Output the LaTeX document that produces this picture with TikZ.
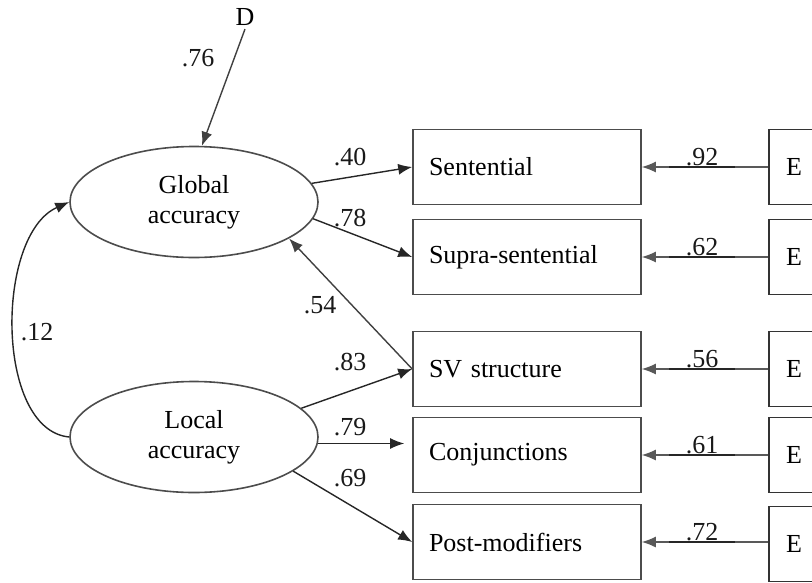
\documentclass[tikz,border=0pt]{standalone}
\usepackage{fontspec}
\setmainfont{Liberation Serif}
\usetikzlibrary{shapes.geometric,arrows.meta}

\begin{document}
\begin{tikzpicture}[x=1pt,y=-1pt,font=\fontsize{26}{30}\selectfont,
	latent/.style={ellipse,draw=black!70,line width=1.6pt,minimum width=248pt,minimum height=111pt,align=center,inner sep=0pt},
	observed/.style={rectangle,draw=black!70,line width=1.6pt,minimum height=75pt,text width=196pt,inner xsep=16pt,align=left},
	errbox/.style={rectangle,draw=black!80,line width=1.3pt,minimum height=75pt,minimum width=50pt},
	load/.style={-{Latex[length=14pt,width=11pt]},line width=1.4pt,black!85},
	errarr/.style={-{Latex[length=14pt,width=11pt]},line width=1.3pt,black!65},
	coef/.style={inner sep=0pt,text=black!90}]
			\useasboundingbox (0,0) rectangle (812,582);
			\clip (0,0) rectangle (812,582);
			
			\node[latent] (glob) at (194,202) {Global\\accuracy};
			\node[latent] (loc) at (194,437) {Local\\accuracy};
			\node (d) at (245,17) {D};
			
			\node[observed] (sent) at (527,167) {Sentential};
			\node[observed] (supra) at (527,257) {Supra-sentential};
			\node[observed] (sv) at (527,369) {SV structure};
			\node[observed] (conj) at (527,455) {Conjunctions};
			\node[observed] (post) at (527,542) {Post-modifiers};
			
			\node[errbox] (e1) at (794,167) {E};
			\node[errbox] (e2) at (794,257) {E};
			\node[errbox] (e3) at (794,369) {E};
			\node[errbox] (e4) at (794,455) {E};
			\node[errbox] (e5) at (794,544) {E};
			
			\draw[load,black!75] (d.south) -- (glob.82);
			\node[coef] (k0) at (198,58) {.76};
			
			\draw[load] (glob.9) -- (sent.west);
			\draw[load] (glob.-8) -- (supra.west);
			\draw[load,black!75] (sv.west) -- (glob.-21);
			\draw[load] (loc.15) -- (sv.west);
			\draw[load] (loc.-3) -- ([xshift=-8pt]loc.-3 -| conj.west);
			\draw[load] (loc.-19) -- (post.west);
			\draw[load] (loc.west) .. controls (-5,430) and (-5,235) .. (glob.west);
			
			\node[coef] (k1) at (350,157) {.40};
			\node[coef] (k2) at (350,218) {.78};
			\node[coef] (k3) at (320,305) {.54};
			\node[coef] (k4) at (350,362) {.83};
			\node[coef] (k5) at (350,427) {.79};
			\node[coef] (k6) at (350,478) {.69};
			\node[coef] (k7) at (37,332) {.12};
			
			\draw[errarr] (e1.west |- sent.east) -- (sent.east) node[coef,midway,above,xshift=-3pt] (r1) {.92};
			\draw[errarr] (e2.west |- supra.east) -- (supra.east) node[coef,midway,above,xshift=-3pt] (r2) {.62};
			\draw[errarr] (e3.west |- sv.east) -- (sv.east) node[coef,midway,above,xshift=-3pt] (r3) {.56};
			\draw[errarr] (e4.west |- conj.east) -- (conj.east) node[coef,midway,above,xshift=-3pt] (r4) {.61};
			\draw[errarr] (e5.west |- post.east) -- (post.east) node[coef,midway,above,xshift=-3pt] (r5) {.72};
			
			\draw[line width=2.8pt,black!85] ([xshift=-33pt]r1.south) -- ([xshift=33pt]r1.south);
			\draw[line width=2.8pt,black!85] ([xshift=-33pt]r2.south) -- ([xshift=33pt]r2.south);
			\draw[line width=2.8pt,black!85] ([xshift=-33pt]r3.south) -- ([xshift=33pt]r3.south);
			\draw[line width=2.8pt,black!85] ([xshift=-33pt]r4.south) -- ([xshift=33pt]r4.south);
			\draw[line width=2.8pt,black!85] ([xshift=-33pt]r5.south) -- ([xshift=33pt]r5.south);
\end{tikzpicture}
\end{document}
